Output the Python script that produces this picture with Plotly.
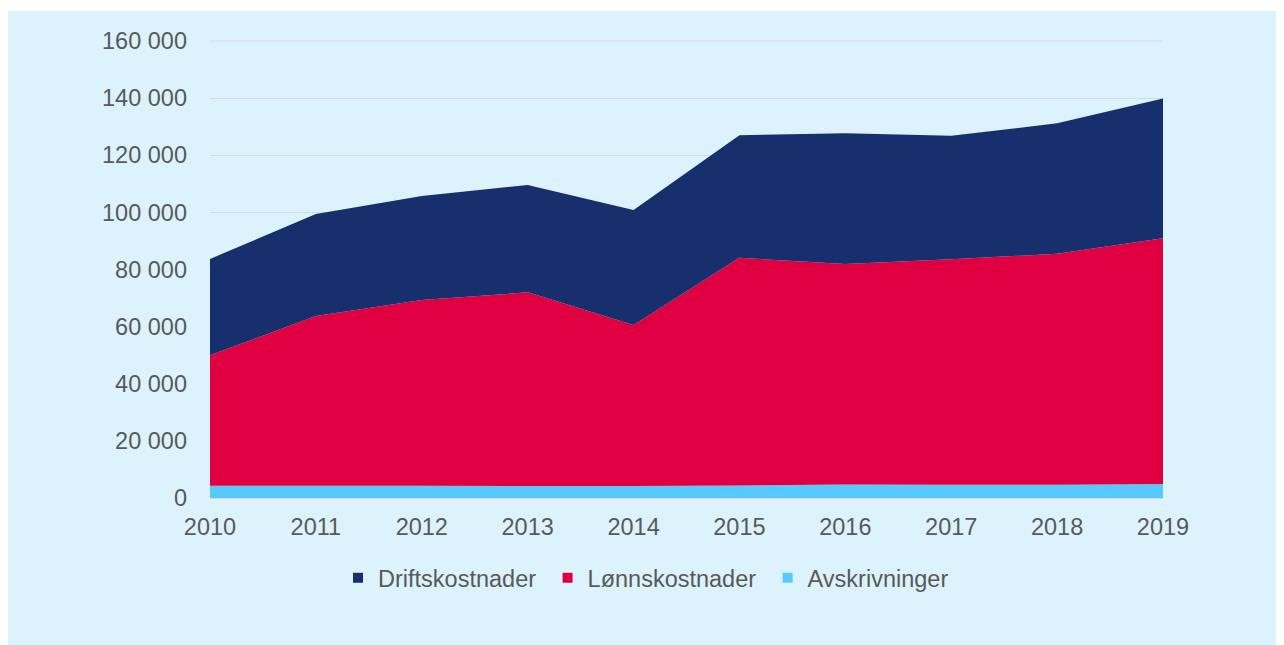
import plotly.graph_objects as go

years = [2010, 2011, 2012, 2013, 2014, 2015, 2016, 2017, 2018, 2019]
avskrivninger = [4300, 4300, 4300, 4200, 4200, 4400, 4700, 4600, 4600, 4900]
lonnskostnader = [45700, 59400, 65000, 67800, 56400, 79700, 77200, 79000, 80900, 86000]
driftskostnader = [33700, 35700, 36400, 37600, 40200, 42900, 45800, 43200, 45700, 49000]
y_ticks = [0, 20000, 40000, 60000, 80000, 100000, 120000, 140000, 160000]
y_tick_labels = ["0", "20 000", "40 000", "60 000", "80 000", "100 000", "120 000", "140 000", "160 000"]

names = ["Avskrivninger", "Lønnskostnader", "Driftskostnader"]
colors = {"Avskrivninger": "#57C9FC", "Lønnskostnader": "#E00041", "Driftskostnader": "#17306D"}
series = {"Avskrivninger": avskrivninger, "Lønnskostnader": lonnskostnader, "Driftskostnader": driftskostnader}

BG = "#DCF3FD"
TXT = "#595959"
GRID = "#D9D9D9"
FONT = "Liberation Sans, Arial, sans-serif"
FS = 23.5

fig = go.Figure()
for n in names:
    fig.add_trace(go.Scatter(
        x=years, y=series[n], name=n, stackgroup="one", mode="none",
        fill="tonexty", fillcolor=colors[n], showlegend=False, hoverinfo="x+y+name",
    ))

# legend entries (square markers)
for n in ["Driftskostnader", "Lønnskostnader", "Avskrivninger"]:
    fig.add_trace(go.Scatter(
        x=[None], y=[None], name=n + "\u00a0", mode="markers",
        marker=dict(symbol="square", size=10, color=colors[n]), showlegend=True,
    ))

# page body has an 8px margin; figure occupies 8..1284 x 8..645
OFF = 8
W, H = 1284 - OFF, 645 - OFF
L, R, T, B = 210 - OFF, 1163 - OFF, 40 - OFF, 498 - OFF
pw, ph = R - L, B - T
YMAX = 160350

def px_x(p):
    return (p - OFF - L) / pw

def px_y(p):
    return (B - (p - OFF)) / ph

fig.update_layout(
    width=W, height=H,
    margin=dict(l=L, r=W - R, t=T, b=H - B, pad=0),
    paper_bgcolor=BG, plot_bgcolor=BG,
    font=dict(family=FONT, size=FS, color=TXT),
    showlegend=True,
    legend=dict(
        orientation="h", x=px_x(649), xanchor="center", y=px_y(578), yanchor="middle",
        font=dict(family=FONT, size=FS, color=TXT), bgcolor="rgba(0,0,0,0)",
        traceorder="normal", itemwidth=30,
    ),
    xaxis=dict(
        range=[2010, 2019], tickmode="array", tickvals=years, ticktext=[str(y) for y in years],
        showgrid=False, zeroline=False, showline=True, linecolor=GRID, linewidth=1,
        ticks="", ticklabelstandoff=8, tickfont=dict(size=FS, color=TXT),
    ),
    yaxis=dict(
        range=[0, YMAX], tickmode="array", tickvals=y_ticks, ticktext=y_tick_labels,
        showgrid=True, gridcolor=GRID, gridwidth=1, zeroline=False, showline=False,
        ticks="", ticklabelstandoff=22, tickfont=dict(size=FS, color=TXT),
    ),
    shapes=[
        dict(type="rect", xref="paper", yref="paper", x0=px_x(0), x1=px_x(1290),
             y0=px_y(11), y1=px_y(0), fillcolor="white", line=dict(width=0), layer="above"),
        dict(type="line", xref="paper", yref="y", x0=0, x1=1,
             y0=y_ticks[-1], y1=y_ticks[-1], line=dict(color=GRID, width=1), layer="below"),
    ],
)

fig.write_html("out.html")
